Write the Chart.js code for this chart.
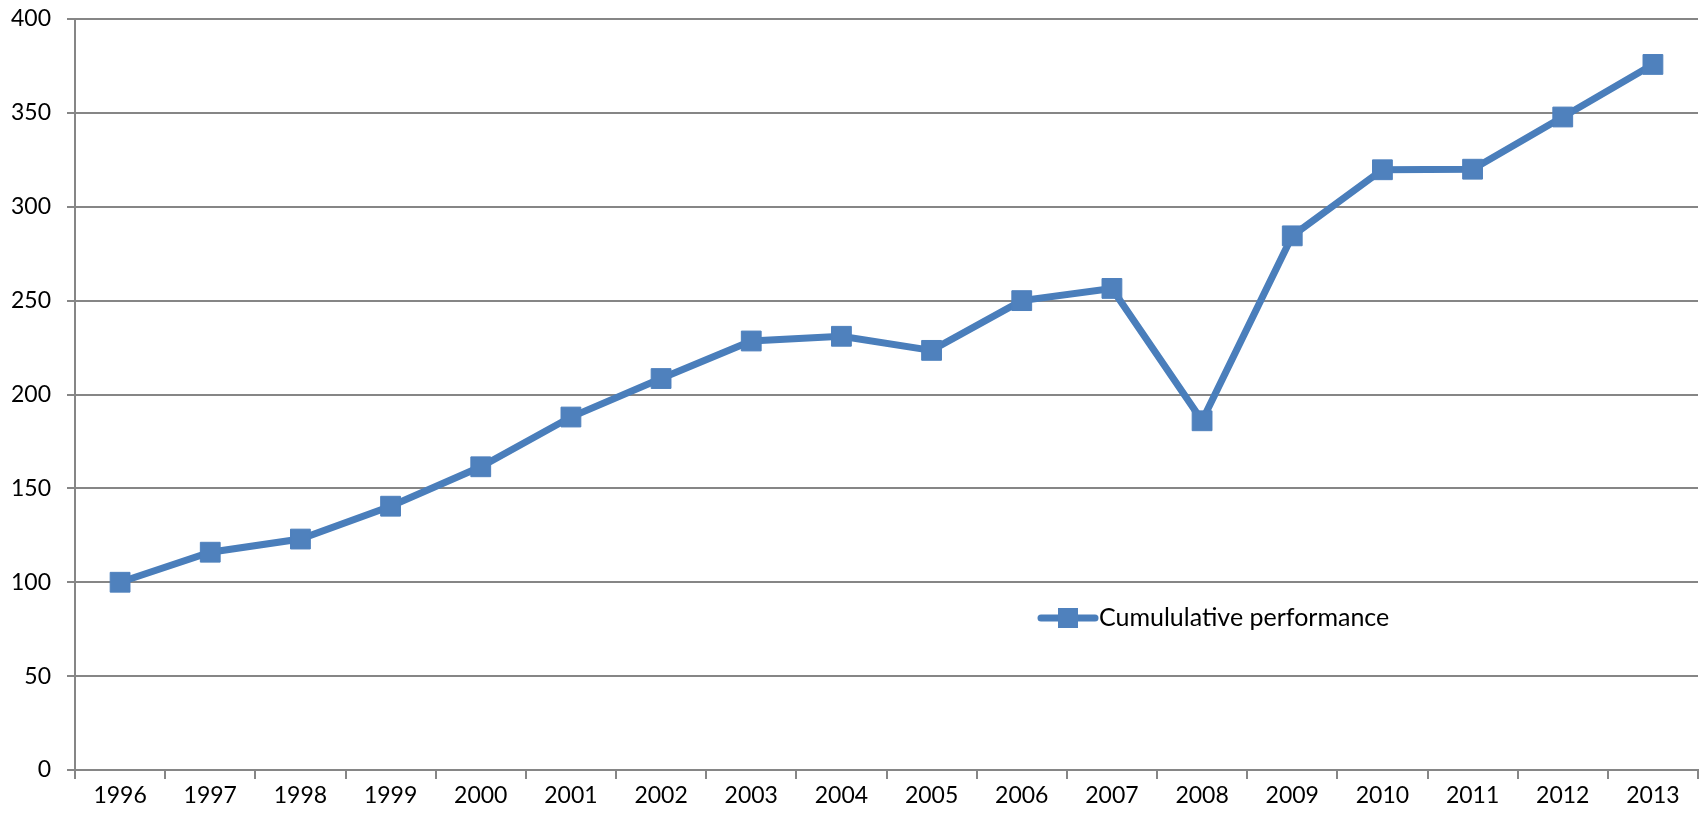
<!DOCTYPE html>
<html>
<head>
<meta charset="utf-8">
<script src="https://cdn.jsdelivr.net/npm/chart.js@4"></script>
<style>
  html, body { margin: 0; padding: 0; background: #fff; overflow: hidden; }
  #wrap { width: 1700px; height: 817px; overflow: hidden; }
</style>
</head>
<body>
<div id="wrap"><canvas id="myChart" width="1713" height="817"></canvas></div>
<script>
const years = ['1996', '1997', '1998', '1999', '2000', '2001', '2002', '2003', '2004',
               '2005', '2006', '2007', '2008', '2009', '2010', '2011', '2012', '2013'];
const performance = [100, 116, 123, 140.5, 161.5, 188, 208.5, 228.5, 231,
                     223.5, 250, 256.5, 186, 284.5, 319.7, 320, 347.8, 375.8];
const seriesName = 'Cumululative performance';

const lineColor = '#4a7ebb';
const gridColor = '#868686';

// legend drawn by hand inside the plot, like the original
const legendInPlot = {
    id: 'legendInPlot',
    afterDraw(chart) {
        const c = chart.ctx;
        const y = 618;
        c.save();
        c.strokeStyle = lineColor;
        c.lineWidth = 7;
        c.lineCap = 'round';
        c.beginPath();
        c.moveTo(1041, y);
        c.lineTo(1095, y);
        c.stroke();
        c.fillStyle = '#4f81bd';
        c.fillRect(1058, y - 10, 20, 20);
        c.fillStyle = '#000';
        c.font = '25px Lato';
        c.textBaseline = 'middle';
        c.fillText(seriesName, 1099, y);
        c.restore();
    }
};

const ctx = document.getElementById('myChart').getContext('2d');
const myChart = new Chart(ctx, {
    type: 'line',
    data: {
        labels: years,
        datasets: [{
            label: seriesName,
            data: performance,
            borderColor: lineColor,
            borderWidth: 7,
            backgroundColor: '#4f81bd',
            pointStyle: 'rect',
            pointRadius: 14,
            pointBorderWidth: 1,
            pointBorderColor: '#4f81bd',
            pointBackgroundColor: '#4f81bd',
            tension: 0
        }]
    },
    options: {
        responsive: false,
        animation: false,
        layout: { padding: { top: 19, right: 8, left: 0, bottom: 0 } },
        plugins: {
            legend: { display: false },
            tooltip: { enabled: false }
        },
        scales: {
            x: {
                offset: true,
                grid: {
                    offset: true,
                    drawOnChartArea: false,
                    drawTicks: true,
                    tickLength: 9,
                    color: gridColor,
                    lineWidth: 2
                },
                border: { color: gridColor, width: 2 },
                ticks: {
                    color: '#000',
                    font: { family: 'Lato', size: 23 },
                    padding: 3,
                    maxRotation: 0,
                    autoSkip: false
                },
                afterFit(scale) {
                    scale.height = 47;
                    scale.paddingLeft = 0;
                    scale.paddingRight = 0;
                }
            },
            y: {
                min: 0,
                max: 400,
                grid: {
                    color: gridColor,
                    lineWidth: 2,
                    drawTicks: true,
                    tickLength: 8
                },
                border: { color: gridColor, width: 2 },
                ticks: {
                    stepSize: 50,
                    color: '#000',
                    font: { family: 'Lato', size: 23 },
                    padding: 16
                },
                afterFit(scale) {
                    scale.width = 75;
                    scale.paddingTop = 0;
                }
            }
        }
    },
    plugins: [legendInPlot]
});
</script>
</body>
</html>
